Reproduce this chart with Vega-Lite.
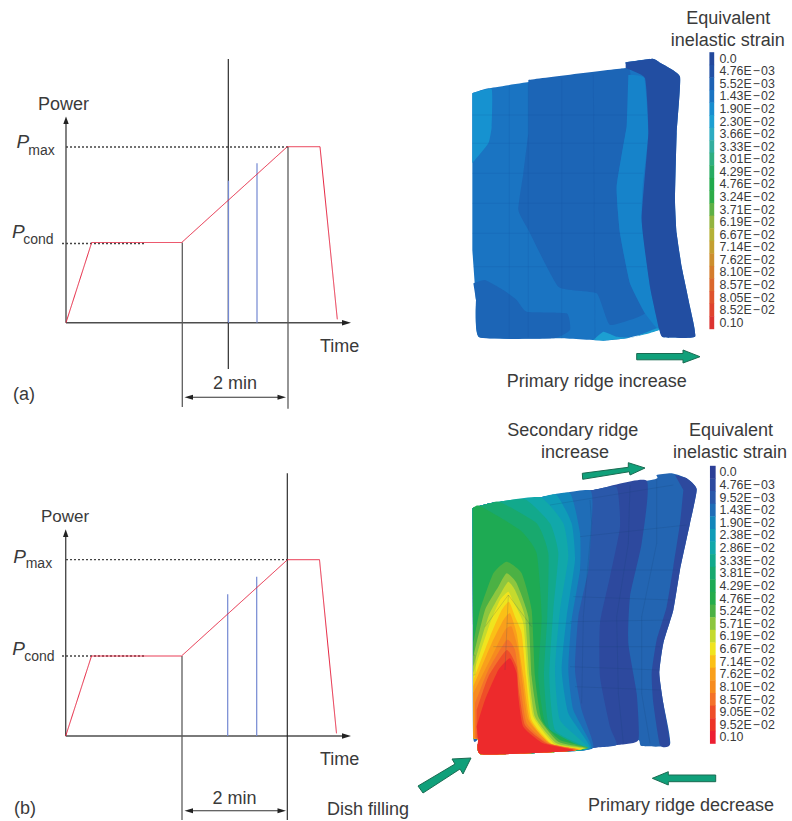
{"$schema":"https://vega.github.io/schema/vega-lite/v6.json","width":792,"height":821,"padding":0,"autosize":"none","background":"white","config":{"view":{"stroke":null},"text":{"font":"Liberation Sans","color":"#3a3a3a"}},
"datasets":{
"strokes":[
{"id":"a-axis-y","kind":"axis","x":66,"y":322.7},{"id":"a-axis-y","kind":"axis","x":66,"y":120},
{"id":"a-axis-x","kind":"axis","x":66,"y":322.7},{"id":"a-axis-x","kind":"axis","x":345,"y":322.7},
{"id":"a-dot1","kind":"dotted","x":66,"y":147},{"id":"a-dot1","kind":"dotted","x":288,"y":147},
{"id":"a-dot2","kind":"dotted","x":62,"y":243.5},{"id":"a-dot2","kind":"dotted","x":146,"y":243.5},
{"id":"a-g1","kind":"guide","x":182.3,"y":242.5},{"id":"a-g1","kind":"guide","x":182.3,"y":407},
{"id":"a-g2","kind":"guide","x":288,"y":147},{"id":"a-g2","kind":"guide","x":288,"y":408.7},
{"id":"a-c","kind":"cursor","x":228.3,"y":59},{"id":"a-c","kind":"cursor","x":228.3,"y":369},
{"id":"a-b1","kind":"probe","x":228.5,"y":180.7},{"id":"a-b1","kind":"probe","x":228.5,"y":322.7},
{"id":"a-b2","kind":"probe","x":257,"y":163.3},{"id":"a-b2","kind":"probe","x":257,"y":322.7},
{"id":"a-ar","kind":"arrow","x":188,"y":397.3},{"id":"a-ar","kind":"arrow","x":282,"y":397.3},
{"id":"a-p","kind":"pulse","x":66,"y":322.7},{"id":"a-p","kind":"pulse","x":91.7,"y":242.5},{"id":"a-p","kind":"pulse","x":181.7,"y":242.5},{"id":"a-p","kind":"pulse","x":287.3,"y":146.7},{"id":"a-p","kind":"pulse","x":320,"y":146.7},{"id":"a-p","kind":"pulse","x":337.3,"y":319.3},
{"id":"b-axis-y","kind":"axis","x":65.7,"y":736},{"id":"b-axis-y","kind":"axis","x":65.7,"y":533},
{"id":"b-axis-x","kind":"axis","x":65.7,"y":736},{"id":"b-axis-x","kind":"axis","x":345,"y":736},
{"id":"b-dot1","kind":"dotted","x":66,"y":559.7},{"id":"b-dot1","kind":"dotted","x":287,"y":559.7},
{"id":"b-dot2","kind":"dotted","x":62,"y":656},{"id":"b-dot2","kind":"dotted","x":146,"y":656},
{"id":"b-g1","kind":"guide","x":182,"y":656},{"id":"b-g1","kind":"guide","x":182,"y":820},
{"id":"b-b1","kind":"probe","x":227.7,"y":594.3},{"id":"b-b1","kind":"probe","x":227.7,"y":736},
{"id":"b-b2","kind":"probe","x":256.7,"y":576.7},{"id":"b-b2","kind":"probe","x":256.7,"y":736},
{"id":"b-c","kind":"cursor","x":287.3,"y":473.3},{"id":"b-c","kind":"cursor","x":287.3,"y":820},
{"id":"b-ar","kind":"arrow","x":188,"y":810.7},{"id":"b-ar","kind":"arrow","x":282,"y":810.7},
{"id":"b-p","kind":"pulse","x":65.7,"y":736},{"id":"b-p","kind":"pulse","x":91.5,"y":656},{"id":"b-p","kind":"pulse","x":181.5,"y":656},{"id":"b-p","kind":"pulse","x":287.5,"y":559.7},{"id":"b-p","kind":"pulse","x":319.5,"y":559.7},{"id":"b-p","kind":"pulse","x":336.5,"y":733.3}
],
"heads":[
{"id":"a1","x":66,"y":116.5},{"id":"a1","x":63.3,"y":124},{"id":"a1","x":68.7,"y":124},
{"id":"a2","x":351,"y":322.7},{"id":"a2","x":342,"y":320},{"id":"a2","x":342,"y":325.4},
{"id":"a3","x":184.5,"y":397.3},{"id":"a3","x":193,"y":394.8},{"id":"a3","x":193,"y":399.8},
{"id":"a4","x":286,"y":397.3},{"id":"a4","x":277.5,"y":394.8},{"id":"a4","x":277.5,"y":399.8},
{"id":"b1","x":65.7,"y":529.3},{"id":"b1","x":63,"y":537},{"id":"b1","x":68.4,"y":537},
{"id":"b2","x":351,"y":736},{"id":"b2","x":342,"y":733.3},{"id":"b2","x":342,"y":738.7},
{"id":"b3","x":184.5,"y":810.7},{"id":"b3","x":193,"y":808.2},{"id":"b3","x":193,"y":813.2},
{"id":"b4","x":286,"y":810.7},{"id":"b4","x":277.5,"y":808.2},{"id":"b4","x":277.5,"y":813.2}
],
"greenArrows":[
{"id":"g1","x":636.7,"y":353.5},{"id":"g1","x":683,"y":353.5},{"id":"g1","x":683,"y":350},{"id":"g1","x":700,"y":356.7},{"id":"g1","x":683,"y":363},{"id":"g1","x":683,"y":359.8},{"id":"g1","x":636.7,"y":359.8},{"id":"g1","x":636.7,"y":353.5},
{"id":"g2","x":582.3,"y":473.3},{"id":"g2","x":628.3,"y":467.3},{"id":"g2","x":628.3,"y":462.7},{"id":"g2","x":645,"y":468},{"id":"g2","x":630,"y":475},{"id":"g2","x":629.3,"y":471.7},{"id":"g2","x":582.7,"y":479.3},{"id":"g2","x":582.3,"y":473.3},
{"id":"g3","x":715.7,"y":775},{"id":"g3","x":668.3,"y":775},{"id":"g3","x":668.3,"y":771.7},{"id":"g3","x":652.3,"y":778.3},{"id":"g3","x":668.3,"y":785},{"id":"g3","x":668.3,"y":781.7},{"id":"g3","x":715.7,"y":781.7},{"id":"g3","x":715.7,"y":775},
{"id":"g4","x":418,"y":786},{"id":"g4","x":455,"y":764},{"id":"g4","x":452,"y":759},{"id":"g4","x":471,"y":758},{"id":"g4","x":463,"y":774},{"id":"g4","x":460,"y":769},{"id":"g4","x":423,"y":793},{"id":"g4","x":418,"y":786}
],
"contoursA":[
{"id":"base","level":3,"x":37,"y":280},{"id":"base","level":3,"x":85,"y":265},{"id":"base","level":3,"x":300,"y":232},{"id":"base","level":3,"x":497,"y":205},{"id":"base","level":3,"x":497,"y":187},{"id":"base","level":3,"x":578,"y":176},{"id":"base","level":3,"x":600,"y":188},{"id":"base","level":3,"x":660,"y":230},{"id":"base","level":3,"x":650,"y":400},{"id":"base","level":3,"x":645,"y":600},{"id":"base","level":3,"x":650,"y":700},{"id":"base","level":3,"x":665,"y":800},{"id":"base","level":3,"x":690,"y":920},{"id":"base","level":3,"x":705,"y":1010},{"id":"base","level":3,"x":610,"y":1012},{"id":"base","level":3,"x":598,"y":990},{"id":"base","level":3,"x":560,"y":1000},{"id":"base","level":3,"x":500,"y":1015},{"id":"base","level":3,"x":430,"y":1022},{"id":"base","level":3,"x":300,"y":1015},{"id":"base","level":3,"x":58,"y":1012},{"id":"base","level":3,"x":48,"y":900},{"id":"base","level":3,"x":37,"y":750},
{"id":"cyan","level":4.3,"x":37,"y":280},{"id":"cyan","level":4.3,"x":95,"y":268},{"id":"cyan","level":4.3,"x":95,"y":380},{"id":"cyan","level":4.3,"x":85,"y":430},{"id":"cyan","level":4.3,"x":37,"y":490},
{"id":"mid","level":2.2,"x":205,"y":240},{"id":"mid","level":2.2,"x":497,"y":205},{"id":"mid","level":2.2,"x":510,"y":240},{"id":"mid","level":2.2,"x":500,"y":380},{"id":"mid","level":2.2,"x":470,"y":560},{"id":"mid","level":2.2,"x":480,"y":700},{"id":"mid","level":2.2,"x":510,"y":850},{"id":"mid","level":2.2,"x":555,"y":940},{"id":"mid","level":2.2,"x":450,"y":975},{"id":"mid","level":2.2,"x":410,"y":880},{"id":"mid","level":2.2,"x":295,"y":860},{"id":"mid","level":2.2,"x":205,"y":690},{"id":"mid","level":2.2,"x":175,"y":630},{"id":"mid","level":2.2,"x":190,"y":520},{"id":"mid","level":2.2,"x":205,"y":400},
{"id":"band","level":3.6,"x":505,"y":225},{"id":"band","level":3.6,"x":553,"y":235},{"id":"band","level":3.6,"x":565,"y":400},{"id":"band","level":3.6,"x":548,"y":560},{"id":"band","level":3.6,"x":545,"y":660},{"id":"band","level":3.6,"x":570,"y":860},{"id":"band","level":3.6,"x":598,"y":990},{"id":"band","level":3.6,"x":555,"y":940},{"id":"band","level":3.6,"x":510,"y":850},{"id":"band","level":3.6,"x":480,"y":700},{"id":"band","level":3.6,"x":470,"y":560},{"id":"band","level":3.6,"x":500,"y":380},
{"id":"rim","level":0.7,"x":497,"y":187},{"id":"rim","level":0.7,"x":578,"y":176},{"id":"rim","level":0.7,"x":600,"y":188},{"id":"rim","level":0.7,"x":660,"y":230},{"id":"rim","level":0.7,"x":650,"y":400},{"id":"rim","level":0.7,"x":645,"y":600},{"id":"rim","level":0.7,"x":650,"y":700},{"id":"rim","level":0.7,"x":665,"y":800},{"id":"rim","level":0.7,"x":690,"y":920},{"id":"rim","level":0.7,"x":705,"y":1010},{"id":"rim","level":0.7,"x":610,"y":1012},{"id":"rim","level":0.7,"x":598,"y":990},{"id":"rim","level":0.7,"x":570,"y":860},{"id":"rim","level":0.7,"x":545,"y":660},{"id":"rim","level":0.7,"x":565,"y":400},{"id":"rim","level":0.7,"x":555,"y":235},{"id":"rim","level":0.7,"x":497,"y":205},
{"id":"foot","level":2.2,"x":40,"y":850},{"id":"foot","level":2.2,"x":75,"y":840},{"id":"foot","level":2.2,"x":130,"y":870},{"id":"foot","level":2.2,"x":170,"y":900},{"id":"foot","level":2.2,"x":200,"y":935},{"id":"foot","level":2.2,"x":320,"y":940},{"id":"foot","level":2.2,"x":330,"y":990},{"id":"foot","level":2.2,"x":280,"y":1015},{"id":"foot","level":2.2,"x":58,"y":1012},{"id":"foot","level":2.2,"x":48,"y":900},
{"id":"spot","level":5,"x":400,"y":1020},{"id":"spot","level":5,"x":430,"y":995},{"id":"spot","level":5,"x":470,"y":1010},{"id":"spot","level":5,"x":520,"y":1012},{"id":"spot","level":5,"x":590,"y":985},{"id":"spot","level":5,"x":598,"y":990},{"id":"spot","level":5,"x":560,"y":1002},{"id":"spot","level":5,"x":500,"y":1015},{"id":"spot","level":5,"x":430,"y":1022}
],
"contoursB":[
{"id":"n0","level":2.6,"x":38,"y":295},{"id":"n0","level":2.6,"x":90,"y":280},{"id":"n0","level":2.6,"x":240,"y":262},{"id":"n0","level":2.6,"x":400,"y":240},{"id":"n0","level":2.6,"x":585,"y":208},{"id":"n0","level":2.6,"x":590,"y":195},{"id":"n0","level":2.6,"x":635,"y":190},{"id":"n0","level":2.6,"x":680,"y":205},{"id":"n0","level":2.6,"x":710,"y":238},{"id":"n0","level":2.6,"x":690,"y":340},{"id":"n0","level":2.6,"x":660,"y":480},{"id":"n0","level":2.6,"x":640,"y":600},{"id":"n0","level":2.6,"x":610,"y":700},{"id":"n0","level":2.6,"x":598,"y":790},{"id":"n0","level":2.6,"x":610,"y":880},{"id":"n0","level":2.6,"x":630,"y":1003},{"id":"n0","level":2.6,"x":545,"y":1008},{"id":"n0","level":2.6,"x":535,"y":990},{"id":"n0","level":2.6,"x":470,"y":1005},{"id":"n0","level":2.6,"x":400,"y":1013},{"id":"n0","level":2.6,"x":300,"y":1025},{"id":"n0","level":2.6,"x":65,"y":1033},{"id":"n0","level":2.6,"x":55,"y":990},{"id":"n0","level":2.6,"x":40,"y":985},{"id":"n0","level":2.6,"x":38,"y":700},
{"id":"rimB","level":0.9,"x":645,"y":195},{"id":"rimB","level":0.9,"x":680,"y":205},{"id":"rimB","level":0.9,"x":710,"y":238},{"id":"rimB","level":0.9,"x":690,"y":340},{"id":"rimB","level":0.9,"x":660,"y":480},{"id":"rimB","level":0.9,"x":640,"y":600},{"id":"rimB","level":0.9,"x":610,"y":700},{"id":"rimB","level":0.9,"x":598,"y":790},{"id":"rimB","level":0.9,"x":610,"y":880},{"id":"rimB","level":0.9,"x":630,"y":1003},{"id":"rimB","level":0.9,"x":600,"y":1005},{"id":"rimB","level":0.9,"x":580,"y":880},{"id":"rimB","level":0.9,"x":575,"y":790},{"id":"rimB","level":0.9,"x":590,"y":690},{"id":"rimB","level":0.9,"x":620,"y":590},{"id":"rimB","level":0.9,"x":640,"y":470},{"id":"rimB","level":0.9,"x":660,"y":340},{"id":"rimB","level":0.9,"x":670,"y":240},
{"id":"n1","level":0.9,"x":38,"y":295},{"id":"n1","level":0.9,"x":90,"y":280},{"id":"n1","level":0.9,"x":240,"y":262},{"id":"n1","level":0.9,"x":400,"y":240},{"id":"n1","level":0.9,"x":560,"y":212},{"id":"n1","level":0.9,"x":545,"y":400},{"id":"n1","level":0.9,"x":510,"y":560},{"id":"n1","level":0.9,"x":505,"y":700},{"id":"n1","level":0.9,"x":530,"y":850},{"id":"n1","level":0.9,"x":535,"y":990},{"id":"n1","level":0.9,"x":470,"y":1005},{"id":"n1","level":0.9,"x":400,"y":1013},{"id":"n1","level":0.9,"x":300,"y":1025},{"id":"n1","level":0.9,"x":65,"y":1033},{"id":"n1","level":0.9,"x":55,"y":990},{"id":"n1","level":0.9,"x":40,"y":985},
{"id":"n2","level":2,"x":38,"y":295},{"id":"n2","level":2,"x":90,"y":280},{"id":"n2","level":2,"x":240,"y":262},{"id":"n2","level":2,"x":400,"y":240},{"id":"n2","level":2,"x":470,"y":232},{"id":"n2","level":2,"x":480,"y":350},{"id":"n2","level":2,"x":450,"y":500},{"id":"n2","level":2,"x":420,"y":640},{"id":"n2","level":2,"x":420,"y":800},{"id":"n2","level":2,"x":450,"y":950},{"id":"n2","level":2,"x":470,"y":1005},{"id":"n2","level":2,"x":400,"y":1013},{"id":"n2","level":2,"x":300,"y":1025},{"id":"n2","level":2,"x":65,"y":1033},{"id":"n2","level":2,"x":55,"y":990},{"id":"n2","level":2,"x":40,"y":985},
{"id":"n3","level":3,"x":38,"y":295},{"id":"n3","level":3,"x":90,"y":280},{"id":"n3","level":3,"x":240,"y":262},{"id":"n3","level":3,"x":390,"y":241},{"id":"n3","level":3,"x":395,"y":340},{"id":"n3","level":3,"x":385,"y":480},{"id":"n3","level":3,"x":355,"y":620},{"id":"n3","level":3,"x":345,"y":780},{"id":"n3","level":3,"x":365,"y":900},{"id":"n3","level":3,"x":400,"y":1013},{"id":"n3","level":3,"x":300,"y":1025},{"id":"n3","level":3,"x":65,"y":1033},{"id":"n3","level":3,"x":55,"y":990},{"id":"n3","level":3,"x":40,"y":985},
{"id":"n4","level":4,"x":38,"y":295},{"id":"n4","level":4,"x":90,"y":280},{"id":"n4","level":4,"x":240,"y":262},{"id":"n4","level":4,"x":330,"y":250},{"id":"n4","level":4,"x":360,"y":370},{"id":"n4","level":4,"x":360,"y":480},{"id":"n4","level":4,"x":335,"y":630},{"id":"n4","level":4,"x":325,"y":780},{"id":"n4","level":4,"x":340,"y":900},{"id":"n4","level":4,"x":395,"y":1013},{"id":"n4","level":4,"x":300,"y":1025},{"id":"n4","level":4,"x":65,"y":1033},{"id":"n4","level":4,"x":55,"y":990},{"id":"n4","level":4,"x":40,"y":985},
{"id":"n5","level":5,"x":38,"y":295},{"id":"n5","level":5,"x":90,"y":280},{"id":"n5","level":5,"x":240,"y":262},{"id":"n5","level":5,"x":290,"y":255},{"id":"n5","level":5,"x":335,"y":340},{"id":"n5","level":5,"x":345,"y":450},{"id":"n5","level":5,"x":320,"y":620},{"id":"n5","level":5,"x":305,"y":780},{"id":"n5","level":5,"x":325,"y":910},{"id":"n5","level":5,"x":390,"y":1013},{"id":"n5","level":5,"x":300,"y":1025},{"id":"n5","level":5,"x":65,"y":1033},{"id":"n5","level":5,"x":55,"y":990},{"id":"n5","level":5,"x":40,"y":985},
{"id":"n6","level":6,"x":38,"y":295},{"id":"n6","level":6,"x":90,"y":280},{"id":"n6","level":6,"x":240,"y":262},{"id":"n6","level":6,"x":310,"y":340},{"id":"n6","level":6,"x":325,"y":440},{"id":"n6","level":6,"x":300,"y":600},{"id":"n6","level":6,"x":285,"y":780},{"id":"n6","level":6,"x":300,"y":930},{"id":"n6","level":6,"x":385,"y":1013},{"id":"n6","level":6,"x":300,"y":1025},{"id":"n6","level":6,"x":65,"y":1033},{"id":"n6","level":6,"x":55,"y":990},{"id":"n6","level":6,"x":40,"y":985},
{"id":"n7","level":7,"x":38,"y":295},{"id":"n7","level":7,"x":90,"y":280},{"id":"n7","level":7,"x":195,"y":268},{"id":"n7","level":7,"x":270,"y":340},{"id":"n7","level":7,"x":295,"y":430},{"id":"n7","level":7,"x":280,"y":600},{"id":"n7","level":7,"x":268,"y":800},{"id":"n7","level":7,"x":285,"y":960},{"id":"n7","level":7,"x":380,"y":1014},{"id":"n7","level":7,"x":300,"y":1025},{"id":"n7","level":7,"x":65,"y":1033},{"id":"n7","level":7,"x":55,"y":990},{"id":"n7","level":7,"x":40,"y":985},
{"id":"n8","level":8,"x":38,"y":295},{"id":"n8","level":8,"x":90,"y":280},{"id":"n8","level":8,"x":120,"y":276},{"id":"n8","level":8,"x":230,"y":340},{"id":"n8","level":8,"x":265,"y":430},{"id":"n8","level":8,"x":262,"y":620},{"id":"n8","level":8,"x":252,"y":800},{"id":"n8","level":8,"x":270,"y":960},{"id":"n8","level":8,"x":375,"y":1015},{"id":"n8","level":8,"x":300,"y":1025},{"id":"n8","level":8,"x":65,"y":1033},{"id":"n8","level":8,"x":55,"y":990},{"id":"n8","level":8,"x":40,"y":985},
{"id":"n9","level":9.2,"x":38,"y":295},{"id":"n9","level":9.2,"x":60,"y":288},{"id":"n9","level":9.2,"x":180,"y":360},{"id":"n9","level":9.2,"x":230,"y":430},{"id":"n9","level":9.2,"x":245,"y":620},{"id":"n9","level":9.2,"x":235,"y":800},{"id":"n9","level":9.2,"x":260,"y":950},{"id":"n9","level":9.2,"x":370,"y":1016},{"id":"n9","level":9.2,"x":300,"y":1025},{"id":"n9","level":9.2,"x":65,"y":1033},{"id":"n9","level":9.2,"x":55,"y":990},{"id":"n9","level":9.2,"x":40,"y":985},
{"id":"n10","level":11,"x":40,"y":700},{"id":"n10","level":11,"x":60,"y":600},{"id":"n10","level":11,"x":100,"y":490},{"id":"n10","level":11,"x":140,"y":455},{"id":"n10","level":11,"x":185,"y":490},{"id":"n10","level":11,"x":215,"y":600},{"id":"n10","level":11,"x":225,"y":800},{"id":"n10","level":11,"x":245,"y":930},{"id":"n10","level":11,"x":300,"y":990},{"id":"n10","level":11,"x":385,"y":1013},{"id":"n10","level":11,"x":300,"y":1025},{"id":"n10","level":11,"x":65,"y":1033},{"id":"n10","level":11,"x":55,"y":990},{"id":"n10","level":11,"x":40,"y":985},
{"id":"n11","level":12,"x":40,"y":740},{"id":"n11","level":12,"x":75,"y":600},{"id":"n11","level":12,"x":115,"y":530},{"id":"n11","level":12,"x":140,"y":490},{"id":"n11","level":12,"x":170,"y":520},{"id":"n11","level":12,"x":205,"y":620},{"id":"n11","level":12,"x":215,"y":800},{"id":"n11","level":12,"x":235,"y":920},{"id":"n11","level":12,"x":295,"y":995},{"id":"n11","level":12,"x":380,"y":1014},{"id":"n11","level":12,"x":300,"y":1025},{"id":"n11","level":12,"x":65,"y":1033},{"id":"n11","level":12,"x":55,"y":990},{"id":"n11","level":12,"x":40,"y":985},
{"id":"n12","level":13,"x":40,"y":770},{"id":"n12","level":13,"x":85,"y":620},{"id":"n12","level":13,"x":125,"y":545},{"id":"n12","level":13,"x":145,"y":515},{"id":"n12","level":13,"x":165,"y":540},{"id":"n12","level":13,"x":195,"y":620},{"id":"n12","level":13,"x":208,"y":800},{"id":"n12","level":13,"x":225,"y":920},{"id":"n12","level":13,"x":290,"y":1000},{"id":"n12","level":13,"x":375,"y":1015},{"id":"n12","level":13,"x":300,"y":1025},{"id":"n12","level":13,"x":65,"y":1033},{"id":"n12","level":13,"x":55,"y":990},{"id":"n12","level":13,"x":40,"y":985},
{"id":"n13","level":14,"x":40,"y":790},{"id":"n13","level":14,"x":90,"y":640},{"id":"n13","level":14,"x":120,"y":570},{"id":"n13","level":14,"x":145,"y":545},{"id":"n13","level":14,"x":160,"y":575},{"id":"n13","level":14,"x":190,"y":640},{"id":"n13","level":14,"x":203,"y":800},{"id":"n13","level":14,"x":220,"y":920},{"id":"n13","level":14,"x":285,"y":1003},{"id":"n13","level":14,"x":370,"y":1016},{"id":"n13","level":14,"x":300,"y":1025},{"id":"n13","level":14,"x":65,"y":1033},{"id":"n13","level":14,"x":55,"y":990},{"id":"n13","level":14,"x":40,"y":985},
{"id":"n14","level":15,"x":40,"y":810},{"id":"n14","level":15,"x":90,"y":680},{"id":"n14","level":15,"x":125,"y":600},{"id":"n14","level":15,"x":147,"y":575},{"id":"n14","level":15,"x":165,"y":620},{"id":"n14","level":15,"x":185,"y":670},{"id":"n14","level":15,"x":198,"y":800},{"id":"n14","level":15,"x":215,"y":930},{"id":"n14","level":15,"x":280,"y":1006},{"id":"n14","level":15,"x":365,"y":1017},{"id":"n14","level":15,"x":300,"y":1025},{"id":"n14","level":15,"x":65,"y":1033},{"id":"n14","level":15,"x":55,"y":990},{"id":"n14","level":15,"x":40,"y":985},
{"id":"n15","level":16,"x":40,"y":830},{"id":"n15","level":16,"x":95,"y":700},{"id":"n15","level":16,"x":130,"y":630},{"id":"n15","level":16,"x":150,"y":610},{"id":"n15","level":16,"x":170,"y":670},{"id":"n15","level":16,"x":190,"y":800},{"id":"n15","level":16,"x":210,"y":930},{"id":"n15","level":16,"x":275,"y":1008},{"id":"n15","level":16,"x":360,"y":1018},{"id":"n15","level":16,"x":300,"y":1025},{"id":"n15","level":16,"x":65,"y":1033},{"id":"n15","level":16,"x":55,"y":990},{"id":"n15","level":16,"x":40,"y":985},
{"id":"n16","level":17,"x":40,"y":850},{"id":"n16","level":17,"x":100,"y":730},{"id":"n16","level":17,"x":135,"y":660},{"id":"n16","level":17,"x":155,"y":650},{"id":"n16","level":17,"x":175,"y":720},{"id":"n16","level":17,"x":188,"y":820},{"id":"n16","level":17,"x":205,"y":930},{"id":"n16","level":17,"x":270,"y":1000},{"id":"n16","level":17,"x":355,"y":1018},{"id":"n16","level":17,"x":300,"y":1025},{"id":"n16","level":17,"x":65,"y":1033},{"id":"n16","level":17,"x":55,"y":990},{"id":"n16","level":17,"x":40,"y":985},
{"id":"n17","level":18,"x":45,"y":880},{"id":"n17","level":18,"x":85,"y":780},{"id":"n17","level":18,"x":140,"y":690},{"id":"n17","level":18,"x":165,"y":720},{"id":"n17","level":18,"x":180,"y":820},{"id":"n17","level":18,"x":200,"y":940},{"id":"n17","level":18,"x":265,"y":1000},{"id":"n17","level":18,"x":350,"y":1019},{"id":"n17","level":18,"x":300,"y":1025},{"id":"n17","level":18,"x":65,"y":1033},{"id":"n17","level":18,"x":55,"y":990},{"id":"n17","level":18,"x":45,"y":985},
{"id":"n18","level":19,"x":50,"y":900},{"id":"n18","level":19,"x":85,"y":800},{"id":"n18","level":19,"x":140,"y":720},{"id":"n18","level":19,"x":170,"y":770},{"id":"n18","level":19,"x":175,"y":830},{"id":"n18","level":19,"x":195,"y":945},{"id":"n18","level":19,"x":260,"y":1000},{"id":"n18","level":19,"x":345,"y":1020},{"id":"n18","level":19,"x":300,"y":1025},{"id":"n18","level":19,"x":65,"y":1033},{"id":"n18","level":19,"x":55,"y":990},{"id":"n18","level":19,"x":50,"y":985},
{"id":"n19","level":20.5,"x":50,"y":950},{"id":"n19","level":20.5,"x":75,"y":870},{"id":"n19","level":20.5,"x":115,"y":780},{"id":"n19","level":20.5,"x":150,"y":745},{"id":"n19","level":20.5,"x":170,"y":790},{"id":"n19","level":20.5,"x":175,"y":860},{"id":"n19","level":20.5,"x":190,"y":950},{"id":"n19","level":20.5,"x":250,"y":1000},{"id":"n19","level":20.5,"x":340,"y":1020},{"id":"n19","level":20.5,"x":300,"y":1025},{"id":"n19","level":20.5,"x":65,"y":1033},{"id":"n19","level":20.5,"x":55,"y":990}
],
"meshB":[
{"id":"h1","x":270,"y":285},{"id":"h1","x":640,"y":225},
{"id":"h2","x":360,"y":380},{"id":"h2","x":680,"y":345},
{"id":"h3","x":360,"y":480},{"id":"h3","x":655,"y":480},
{"id":"h4","x":340,"y":560},{"id":"h4","x":640,"y":570},
{"id":"h5","x":330,"y":635},{"id":"h5","x":630,"y":630},
{"id":"h6","x":330,"y":710},{"id":"h6","x":600,"y":710},
{"id":"h7","x":330,"y":770},{"id":"h7","x":600,"y":780},
{"id":"h8","x":345,"y":830},{"id":"h8","x":600,"y":840},
{"id":"h9","x":140,"y":640},{"id":"h9","x":335,"y":640},
{"id":"h10","x":100,"y":710},{"id":"h10","x":330,"y":710},
{"id":"v1","x":390,"y":270},{"id":"v1","x":395,"y":340},{"id":"v1","x":370,"y":620},{"id":"v1","x":365,"y":880},
{"id":"v2","x":510,"y":225},{"id":"v2","x":505,"y":400},{"id":"v2","x":470,"y":620},{"id":"v2","x":475,"y":850},{"id":"v2","x":490,"y":1000},
{"id":"v3","x":590,"y":205},{"id":"v3","x":590,"y":400},{"id":"v3","x":545,"y":620},{"id":"v3","x":545,"y":850},{"id":"v3","x":570,"y":1000},
{"id":"l1","x":145,"y":555},{"id":"l1","x":75,"y":650},
{"id":"l2","x":145,"y":555},{"id":"l2","x":215,"y":650},
{"id":"l3","x":145,"y":555},{"id":"l3","x":135,"y":780},
{"id":"l4","x":40,"y":735},{"id":"l4","x":45,"y":735},{"id":"l4","x":45,"y":795},{"id":"l4","x":40,"y":795}
],
"meshA":[
{"id":"v1","x":148,"y":258},{"id":"v1","x":148,"y":1012},
{"id":"v2","x":205,"y":250},{"id":"v2","x":205,"y":1012},
{"id":"v3","x":305,"y":235},{"id":"v3","x":305,"y":1015},
{"id":"v4","x":400,"y":222},{"id":"v4","x":405,"y":1020},
{"id":"h1","x":37,"y":345},{"id":"h1","x":560,"y":345},
{"id":"h2","x":37,"y":430},{"id":"h2","x":560,"y":430},
{"id":"h3","x":37,"y":520},{"id":"h3","x":550,"y":520},
{"id":"h4","x":37,"y":610},{"id":"h4","x":545,"y":610},
{"id":"h5","x":37,"y":700},{"id":"h5","x":550,"y":700},
{"id":"h6","x":40,"y":800},{"id":"h6","x":560,"y":800}
],
"barA":[
{"label":"0.0","level":0,"y":58.7},{"label":"4.76E\u200a−\u200a03","level":1,"y":71.3},{"label":"5.52E\u200a−\u200a03","level":2,"y":83.8},{"label":"1.43E\u200a−\u200a02","level":3,"y":96.4},{"label":"1.90E\u200a−\u200a02","level":4,"y":109},{"label":"2.30E\u200a−\u200a02","level":5,"y":121.5},{"label":"3.66E\u200a−\u200a02","level":6,"y":134.1},{"label":"3.33E\u200a−\u200a02","level":7,"y":146.7},{"label":"3.01E\u200a−\u200a02","level":8,"y":159.2},{"label":"4.29E\u200a−\u200a02","level":9,"y":171.8},{"label":"4.76E\u200a−\u200a02","level":10,"y":184.4},{"label":"3.24E\u200a−\u200a02","level":11,"y":196.9},{"label":"3.71E\u200a−\u200a02","level":12,"y":209.5},{"label":"6.19E\u200a−\u200a02","level":13,"y":222.1},{"label":"6.67E\u200a−\u200a02","level":14,"y":234.7},{"label":"7.14E\u200a−\u200a02","level":15,"y":247.2},{"label":"7.62E\u200a−\u200a02","level":16,"y":259.8},{"label":"8.10E\u200a−\u200a02","level":17,"y":272.4},{"label":"8.57E\u200a−\u200a02","level":18,"y":284.9},{"label":"8.05E\u200a−\u200a02","level":19,"y":297.5},{"label":"8.52E\u200a−\u200a02","level":20,"y":310.1},{"label":"0.10","level":21,"y":322.7}
],
"barB":[
{"label":"4.76E\u200a−\u200a03","level":1,"y":484.9},{"label":"9.52E\u200a−\u200a03","level":2,"y":497.5},{"label":"1.43E\u200a−\u200a02","level":3,"y":510.2},{"label":"1.90E\u200a−\u200a02","level":4,"y":522.8},{"label":"2.38E\u200a−\u200a02","level":5,"y":535.4},{"label":"2.86E\u200a−\u200a02","level":6,"y":548},{"label":"3.33E\u200a−\u200a02","level":7,"y":560.6},{"label":"3.81E\u200a−\u200a02","level":8,"y":573.3},{"label":"4.29E\u200a−\u200a02","level":9,"y":585.9},{"label":"4.76E\u200a−\u200a02","level":10,"y":598.5},{"label":"5.24E\u200a−\u200a02","level":11,"y":611.1},{"label":"5.71E\u200a−\u200a02","level":12,"y":623.7},{"label":"6.19E\u200a−\u200a02","level":13,"y":636.3},{"label":"6.67E\u200a−\u200a02","level":14,"y":649},{"label":"7.14E\u200a−\u200a02","level":15,"y":661.6},{"label":"7.62E\u200a−\u200a02","level":16,"y":674.2},{"label":"8.10E\u200a−\u200a02","level":17,"y":686.8},{"label":"8.57E\u200a−\u200a02","level":18,"y":699.5},{"label":"9.05E\u200a−\u200a02","level":19,"y":712.1},{"label":"9.52E\u200a−\u200a02","level":20,"y":724.7},{"label":"0.10","level":21,"y":737.3},{"label":"0.0","level":0,"y":472.3}
],
"labels":[
{"style":"center","label":"Equivalent","x":728.3,"y":24},{"style":"center","label":"inelastic strain","x":727.7,"y":45.7},
{"style":"center","label":"Primary ridge increase","x":596.7,"y":386.7},
{"style":"center","label":"Secondary ridge","x":572.7,"y":436},{"style":"center","label":"increase","x":575,"y":457.7},
{"style":"center","label":"Equivalent","x":731,"y":436},{"style":"center","label":"inelastic strain","x":730,"y":457.7},
{"style":"center","label":"Primary ridge decrease","x":681,"y":811},
{"style":"center","label":"2 min","x":235,"y":388.7},{"style":"center","label":"2 min","x":234.5,"y":804},
{"style":"left","label":"Dish filling","x":327,"y":815},
{"style":"left","label":"Power","x":38,"y":110},{"style":"left","label":"Time","x":320,"y":351.7},
{"style":"left","label":"(a)","x":13,"y":400},
{"style":"left","label":"Time","x":320,"y":765},{"style":"left","label":"(b)","x":14,"y":814},
{"style":"small","label":"Power","x":41,"y":522},
{"style":"sym","label":"P","x":16.5,"y":148},{"style":"sym","label":"P","x":12,"y":238},
{"style":"sym","label":"P","x":13.3,"y":563},{"style":"sym","label":"P","x":12.3,"y":655},
{"style":"sub","label":"max","x":28.3,"y":155},{"style":"sub","label":"cond","x":23.3,"y":244},
{"style":"sub","label":"max","x":25.7,"y":568},{"style":"sub","label":"cond","x":24.3,"y":660.7}
]
},
"resolve":{"scale":{"x":"independent","y":"independent","fill":"independent"}},
"layer":[
{"data":{"name":"contoursA"},"transform":[{"window":[{"op":"row_number","as":"i"}]}],"mark":{"type":"line","stroke":null,"interpolate":"cardinal","tension":0.6},"encoding":{"x":{"field":"x","type":"quantitative","axis":null,"scale":{"domain":[-1380,996]}},"y":{"field":"y","type":"quantitative","axis":null,"scale":{"domain":[2463,0]}},"detail":{"field":"id"},"order":{"field":"i"},"fill":{"field":"level","type":"quantitative","legend":null,"scale":{"domain":[0,1,2,3,4,5,6,7,8,9,10,11,12,13,14,15,16,17,18,19,20,21],"range":["#23489c","#2150a5","#1d61b3","#1a74c2","#188dcf","#1c9fd2","#2cabc2","#33ad9e","#2fae80","#27ab62","#20a94c","#2dab47","#5db045","#93b43f","#b4b137","#c39f30","#cc8e2d","#d47c2c","#da682d","#de532d","#df432e","#dc3330"]}}}},
{"data":{"name":"meshA"},"transform":[{"window":[{"op":"row_number","as":"i"}]}],"mark":{"type":"line","stroke":"#17479a","strokeWidth":0.6,"opacity":0.25},"encoding":{"x":{"field":"x","type":"quantitative","axis":null,"scale":{"domain":[-1380,996]}},"y":{"field":"y","type":"quantitative","axis":null,"scale":{"domain":[2463,0]}},"detail":{"field":"id"},"order":{"field":"i"}}},
{"data":{"name":"contoursB"},"transform":[{"window":[{"op":"row_number","as":"i"}]}],"mark":{"type":"line","stroke":null,"interpolate":"cardinal","tension":0.5},"encoding":{"x":{"field":"x","type":"quantitative","axis":null,"scale":{"domain":[-1380,996]}},"y":{"field":"y","type":"quantitative","axis":null,"scale":{"domain":[1233,-1230]}},"detail":{"field":"id"},"order":{"field":"i"},"fill":{"field":"level","type":"quantitative","legend":null,"scale":{"domain":[0,1,2,3,4,5,6,7,8,9,10,11,12,13,14,15,16,17,18,19,20,21],"range":["#2c3f97","#2d4a9f","#2a58aa","#1f6db7","#1286bb","#0f9cb8","#11a8aa","#12a98c","#18a96e","#1daa55","#25ac4a","#4bb144","#8dc63f","#c5da2e","#f0e41e","#fbc016","#f9a01b","#f68b1f","#f4722a","#ef4e28","#ed3426","#ed1f32"]}}}},
{"data":{"name":"meshB"},"transform":[{"window":[{"op":"row_number","as":"i"}]}],"mark":{"type":"line","stroke":"#123a6e","strokeWidth":0.6,"opacity":0.28},"encoding":{"x":{"field":"x","type":"quantitative","axis":null,"scale":{"domain":[-1380,996]}},"y":{"field":"y","type":"quantitative","axis":null,"scale":{"domain":[1233,-1230]}},"detail":{"field":"id"},"order":{"field":"i"}}},
{"data":{"name":"barA"},"mark":{"type":"rect","width":4.8,"height":13},"encoding":{"x":{"datum":711.8,"type":"quantitative","axis":null,"scale":{"domain":[0,792]}},"y":{"field":"y","type":"quantitative","axis":null,"scale":{"domain":[821,0]}},"fill":{"field":"level","type":"quantitative","legend":null,"scale":{"domain":[0,1,2,3,4,5,6,7,8,9,10,11,12,13,14,15,16,17,18,19,20,21],"range":["#23489c","#2150a5","#1d61b3","#1a74c2","#188dcf","#1c9fd2","#2cabc2","#33ad9e","#2fae80","#27ab62","#20a94c","#2dab47","#5db045","#93b43f","#b4b137","#c39f30","#cc8e2d","#d47c2c","#da682d","#de532d","#df432e","#dc3330"]}}}},
{"data":{"name":"barB"},"mark":{"type":"rect","width":5.7,"height":13},"encoding":{"x":{"datum":712.8,"type":"quantitative","axis":null,"scale":{"domain":[0,792]}},"y":{"field":"y","type":"quantitative","axis":null,"scale":{"domain":[821,0]}},"fill":{"field":"level","type":"quantitative","legend":null,"scale":{"domain":[0,1,2,3,4,5,6,7,8,9,10,11,12,13,14,15,16,17,18,19,20,21],"range":["#2c3f97","#2d4a9f","#2a58aa","#1f6db7","#1286bb","#0f9cb8","#11a8aa","#12a98c","#18a96e","#1daa55","#25ac4a","#4bb144","#8dc63f","#c5da2e","#f0e41e","#fbc016","#f9a01b","#f68b1f","#f4722a","#ef4e28","#ed3426","#ed1f32"]}}}},
{"data":{"name":"barA"},"mark":{"type":"text","align":"left","baseline":"middle","fontSize":12.4,"font":"Liberation Sans","color":"#3a3a3a"},"encoding":{"x":{"datum":719.4,"type":"quantitative","axis":null,"scale":{"domain":[0,792]}},"y":{"field":"y","type":"quantitative","axis":null,"scale":{"domain":[821,0]}},"text":{"field":"label"}}},
{"data":{"name":"barB"},"mark":{"type":"text","align":"left","baseline":"middle","fontSize":12.4,"font":"Liberation Sans","color":"#3a3a3a"},"encoding":{"x":{"datum":719.4,"type":"quantitative","axis":null,"scale":{"domain":[0,792]}},"y":{"field":"y","type":"quantitative","axis":null,"scale":{"domain":[821,0]}},"text":{"field":"label"}}},
{"data":{"name":"greenArrows"},"transform":[{"window":[{"op":"row_number","as":"i"}]}],"mark":{"type":"line","fill":"#10a07a","stroke":"#1a6b52","strokeWidth":1},"encoding":{"x":{"field":"x","type":"quantitative","axis":null,"scale":{"domain":[0,792]}},"y":{"field":"y","type":"quantitative","axis":null,"scale":{"domain":[821,0]}},"detail":{"field":"id"},"order":{"field":"i"}}},
{"data":{"name":"strokes"},"transform":[{"window":[{"op":"row_number","as":"i"}]}],"mark":{"type":"line"},"encoding":{"x":{"field":"x","type":"quantitative","axis":null,"scale":{"domain":[0,792]}},"y":{"field":"y","type":"quantitative","axis":null,"scale":{"domain":[821,0]}},"detail":{"field":"id"},"order":{"field":"i"},
"stroke":{"field":"kind","type":"nominal","legend":null,"scale":{"domain":["axis","dotted","guide","probe","cursor","arrow","pulse"],"range":["#4d4d4d","#444444","#5a5a5a","#7388d2","#222222","#333333","#e6233f"]}},
"strokeDash":{"field":"kind","type":"nominal","legend":null,"scale":{"domain":["axis","dotted","guide","probe","cursor","arrow","pulse"],"range":[[1,0],[2,2],[1,0],[1,0],[1,0],[1,0],[1,0]]}},
"strokeWidth":{"field":"kind","type":"nominal","legend":null,"scale":{"domain":["axis","dotted","guide","probe","cursor","arrow","pulse"],"range":[1.4,1,1.3,1.4,1,1,1.5]}}}},
{"data":{"name":"heads"},"transform":[{"window":[{"op":"row_number","as":"i"}]}],"mark":{"type":"line","fill":"#222222","stroke":null},"encoding":{"x":{"field":"x","type":"quantitative","axis":null,"scale":{"domain":[0,792]}},"y":{"field":"y","type":"quantitative","axis":null,"scale":{"domain":[821,0]}},"detail":{"field":"id"},"order":{"field":"i"}}},
{"data":{"name":"labels"},"transform":[{"filter":"datum.style==='center'"}],"mark":{"type":"text","align":"center","baseline":"alphabetic","fontSize":18,"font":"Liberation Sans","color":"#3a3a3a"},"encoding":{"x":{"field":"x","type":"quantitative","axis":null,"scale":{"domain":[0,792]}},"y":{"field":"y","type":"quantitative","axis":null,"scale":{"domain":[821,0]}},"text":{"field":"label"}}},
{"data":{"name":"labels"},"transform":[{"filter":"datum.style==='left'"}],"mark":{"type":"text","align":"left","baseline":"alphabetic","fontSize":18,"font":"Liberation Sans","color":"#3a3a3a"},"encoding":{"x":{"field":"x","type":"quantitative","axis":null,"scale":{"domain":[0,792]}},"y":{"field":"y","type":"quantitative","axis":null,"scale":{"domain":[821,0]}},"text":{"field":"label"}}},
{"data":{"name":"labels"},"transform":[{"filter":"datum.style==='small'"}],"mark":{"type":"text","align":"left","baseline":"alphabetic","fontSize":17,"font":"Liberation Sans","color":"#3a3a3a"},"encoding":{"x":{"field":"x","type":"quantitative","axis":null,"scale":{"domain":[0,792]}},"y":{"field":"y","type":"quantitative","axis":null,"scale":{"domain":[821,0]}},"text":{"field":"label"}}},
{"data":{"name":"labels"},"transform":[{"filter":"datum.style==='sym'"}],"mark":{"type":"text","align":"left","baseline":"alphabetic","fontSize":19,"fontStyle":"italic","font":"Liberation Sans","color":"#3a3a3a"},"encoding":{"x":{"field":"x","type":"quantitative","axis":null,"scale":{"domain":[0,792]}},"y":{"field":"y","type":"quantitative","axis":null,"scale":{"domain":[821,0]}},"text":{"field":"label"}}},
{"data":{"name":"labels"},"transform":[{"filter":"datum.style==='sub'"}],"mark":{"type":"text","align":"left","baseline":"alphabetic","fontSize":14,"font":"Liberation Sans","color":"#3a3a3a"},"encoding":{"x":{"field":"x","type":"quantitative","axis":null,"scale":{"domain":[0,792]}},"y":{"field":"y","type":"quantitative","axis":null,"scale":{"domain":[821,0]}},"text":{"field":"label"}}}
]}
